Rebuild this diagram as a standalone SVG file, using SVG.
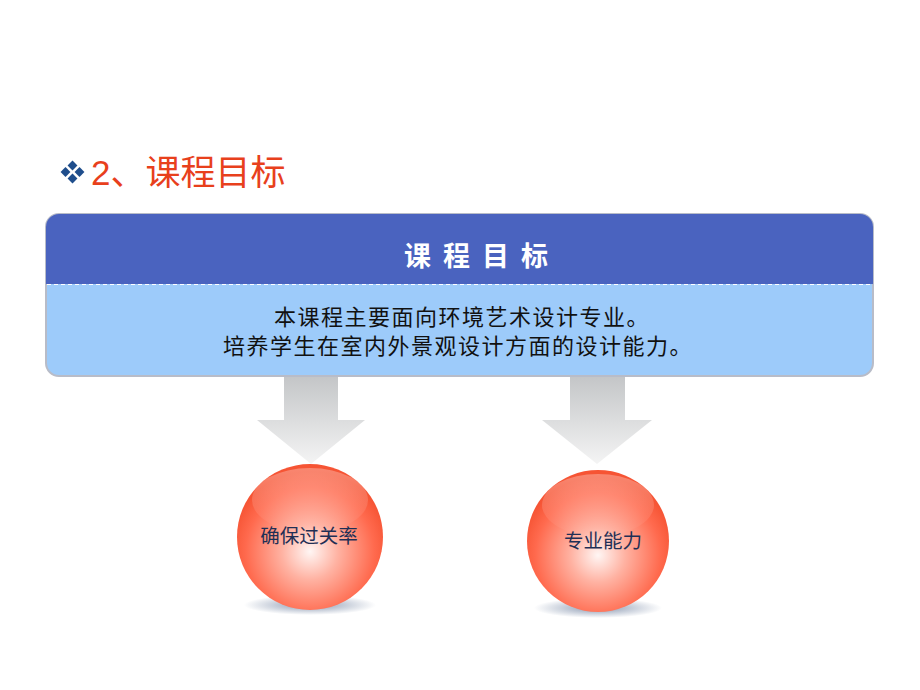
<svg xmlns="http://www.w3.org/2000/svg" width="920" height="690" viewBox="0 0 920 690">
<defs>
<style>
.cjk{font-family:"Liberation Sans","Noto Sans CJK SC",sans-serif}
.title{font-size:35px;fill:#E8401C}
.head{font-size:27px;fill:#fff;font-weight:bold;letter-spacing:12px}
.body{font-size:22px;fill:#111;letter-spacing:1.5px}
.lbl{font-size:19.5px;fill:#1F2F55}
.bullet{fill:#1F4E8C}
</style>
<linearGradient id="arrowG" x1="0" y1="0" x2="0" y2="1">
<stop offset="0" stop-color="#C4C6C8"/>
<stop offset="1" stop-color="#F4F4F4"/>
</linearGradient>
<radialGradient id="ball" cx="0.5" cy="0.6" r="0.55">
<stop offset="0" stop-color="#FFF6F4"/>
<stop offset="0.35" stop-color="#FFB2A2"/>
<stop offset="0.8" stop-color="#FF6A4E"/>
<stop offset="1" stop-color="#F65434"/>
</radialGradient>
<linearGradient id="gloss" x1="0" y1="0" x2="0" y2="1">
<stop offset="0" stop-color="#fff" stop-opacity="0.3"/>
<stop offset="1" stop-color="#fff" stop-opacity="0"/>
</linearGradient>
<radialGradient id="shadow" cx="0.5" cy="0.5" r="0.5">
<stop offset="0" stop-color="#5F7395" stop-opacity="0.75"/>
<stop offset="1" stop-color="#5F7395" stop-opacity="0"/>
</radialGradient>
<clipPath id="topClip"><rect x="46" y="214" width="827" height="70"/></clipPath>
</defs>

<g id="title">
<g class="bullet">
<rect x="69" y="162" width="7" height="7" transform="rotate(45 72.5 165.5)"/>
<rect x="69" y="175" width="7" height="7" transform="rotate(45 72.5 178.5)"/>
<rect x="62" y="168.5" width="7" height="7" transform="rotate(45 65.5 172)"/>
<rect x="76" y="168.5" width="7" height="7" transform="rotate(45 79.5 172)"/>
</g>
<text class="cjk title" x="91" y="185">2、课程目标</text>
</g>

<g id="goal-box">
<rect x="46" y="214" width="827" height="162" rx="13" fill="#9DCBFA" stroke="#B8BCC8" stroke-width="2"/>
<rect x="46" y="214" width="827" height="162" rx="13" fill="#4A63BF" clip-path="url(#topClip)"/>
<line x1="47" y1="284.5" x2="872" y2="284.5" stroke="#fff" stroke-width="1" stroke-dasharray="4,3"/>
<text class="cjk head" x="482" y="266" text-anchor="middle">课程目标</text>
<text class="cjk body" x="462" y="325" text-anchor="middle">本课程主要面向环境艺术设计专业。</text>
<text class="cjk body" x="458" y="354" text-anchor="middle">培养学生在室内外景观设计方面的设计能力。</text>
</g>

<g id="connectors">
<path d="M284,377 H338 V420 H365 L311,464 L257,420 H284 Z" fill="url(#arrowG)"/>
<path d="M570,377 H625 V420 H652 L597,464 L542,420 H570 Z" fill="url(#arrowG)"/>
</g>

<g id="node-pass">
<ellipse cx="310" cy="605" rx="66" ry="10" fill="url(#shadow)"/>
<circle cx="310" cy="537" r="73" fill="url(#ball)"/>
<ellipse cx="310" cy="500" rx="58" ry="32" fill="url(#gloss)"/>
<text class="cjk lbl" x="309" y="543" text-anchor="middle">确保过关率</text>
</g>

<g id="node-skill">
<ellipse cx="598" cy="608" rx="64" ry="10" fill="url(#shadow)"/>
<circle cx="598" cy="541" r="71" fill="url(#ball)"/>
<ellipse cx="598" cy="505" rx="56" ry="31" fill="url(#gloss)"/>
<text class="cjk lbl" x="603" y="548" text-anchor="middle">专业能力</text>
</g>
</svg>
